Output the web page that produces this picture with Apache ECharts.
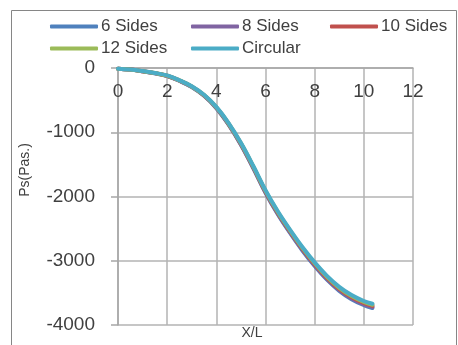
<!DOCTYPE html>
<html>
<head>
<meta charset="utf-8">
<script src="https://cdn.jsdelivr.net/npm/echarts@6/dist/echarts.min.js"></script>
<style>html,body{margin:0;padding:0;background:#fff}#c{width:458px;height:345px}</style>
</head>
<body>
<div id="c"></div>
<script>
const xValues = [0,0.5,1,1.5,2,2.5,3,3.5,4,4.5,5,5.5,6,6.5,7,7.5,8,8.5,9,9.5,10,10.35];
const sides6   = [-10,-25,-52,-83,-124,-200,-296,-433,-625,-883,-1196,-1558,-1942,-2276,-2568,-2840,-3082,-3295,-3468,-3598,-3690,-3735];
const sides8   = [-10,-25,-51,-82,-122,-198,-293,-429,-620,-877,-1189,-1550,-1933,-2265,-2556,-2827,-3068,-3280,-3453,-3582,-3674,-3718];
const sides10  = [-10,-25,-50,-80,-120,-195,-290,-425,-615,-870,-1180,-1540,-1922,-2253,-2543,-2813,-3054,-3265,-3437,-3566,-3658,-3702];
const sides12  = [-10,-25,-49,-79,-118,-193,-287,-421,-610,-864,-1172,-1531,-1912,-2242,-2531,-2800,-3040,-3250,-3422,-3550,-3642,-3686];
const circular = [-10,-24,-48,-78,-116,-190,-284,-417,-605,-857,-1164,-1522,-1902,-2230,-2518,-2786,-3025,-3235,-3406,-3534,-3626,-3670];
const seriesNames = ['6 Sides','8 Sides','10 Sides','12 Sides','Circular'];
const seriesValues = [sides6, sides8, sides10, sides12, circular];
const colors = ['#4F81BD','#8064A2','#C0504D','#9BBB59','#4BACC6'];
const xTicks = [0,2,4,6,8,10,12];
const yTicks = [0,-1000,-2000,-3000,-4000];

const FONT = 'Liberation Sans';
const chart = echarts.init(document.getElementById('c'), null, {renderer:'canvas'});

const legendPos = [[45,13],[186,13],[325,13],[45,35],[186,35]];
const legends = seriesNames.map((n,i)=>({
  data:[n], left:legendPos[i][0], top:legendPos[i][1],
  icon:'roundRect', itemWidth:48, itemHeight:4, itemGap:0,
  textStyle:{fontFamily:FONT, fontSize:17, color:'#404040', padding:[0,0,0,-2]},
  selectedMode:false
}));

chart.setOption({
  animation:false,
  color:colors,
  legend:legends,
  grid:{left:118, right:45, top:68, bottom:20, containLabel:false},
  xAxis:{
    type:'value', min:0, max:12, interval:2, position:'top',
    axisLine:{show:true, onZero:false, lineStyle:{color:'#a6a6a6', width:1.5}},
    axisTick:{show:false},
    axisLabel:{inside:true, margin:14, fontFamily:FONT, fontSize:19, color:'#404040',
      formatter:v=>xTicks.includes(v)?String(v):''},
    splitLine:{show:true, lineStyle:{color:'#b3b3b3', width:1.5}}
  },
  yAxis:{
    type:'value', min:-4000, max:0, interval:1000,
    axisLine:{show:true, lineStyle:{color:'#a6a6a6', width:1.5}},
    axisTick:{show:true, length:7, lineStyle:{color:'#a6a6a6', width:1.5}},
    axisLabel:{margin:23, fontFamily:FONT, fontSize:19, color:'#404040',
      formatter:v=>yTicks.includes(v)?String(v):''},
    splitLine:{show:true, lineStyle:{color:'#b3b3b3', width:1.5}}
  },
  series:seriesNames.map((n,i)=>({
    name:n, type:'line', smooth:0.4, showSymbol:false, symbol:'none',
    lineStyle:{width:4, cap:'round'},
    data:xValues.map((x,j)=>[x, seriesValues[i][j]])
  })),
  graphic:[
    {type:'rect', shape:{x:11.5,y:10.5,width:445,height:400}, style:{fill:'none', stroke:'#868686', lineWidth:1}, z:-1, silent:true},
    {type:'text', x:25, y:170, rotation:Math.PI/2, style:{text:'Ps(Pas.)', fontFamily:FONT, fontSize:14, fill:'#404040', align:'center', verticalAlign:'middle'}},
    {type:'text', x:252, y:333, style:{text:'X/L', fontFamily:FONT, fontSize:14, fill:'#404040', align:'center', verticalAlign:'middle'}}
  ]
});
</script>
</body>
</html>
